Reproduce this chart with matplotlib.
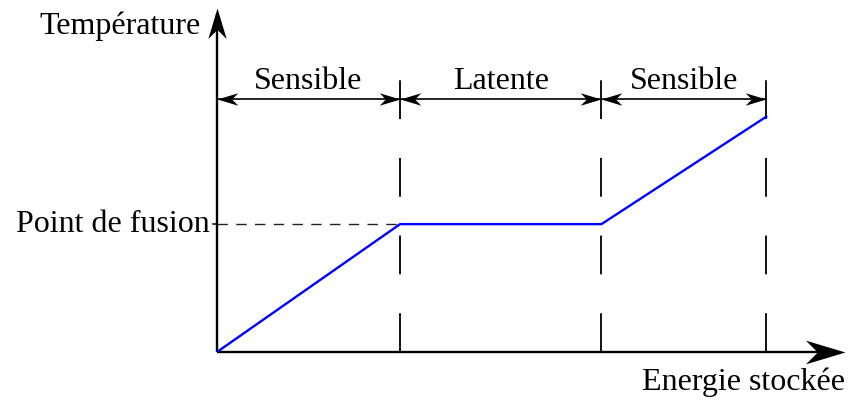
import matplotlib
matplotlib.use('Agg')
import matplotlib.pyplot as plt
from matplotlib.path import Path
from matplotlib.markers import MarkerStyle
from matplotlib.transforms import Affine2D

# curve: stored energy vs temperature (arbitrary units)
energy = [0.0, 1.0, 2.1, 3.0]
temperature = [0.0, 1.0, 1.0, 1.84]
phase_bounds = [0.0, 1.0, 2.1, 3.0]
phase_labels = ['Sensible', 'Latente', 'Sensible']
fusion_temp = 1.0

x_max, y_max = 3.43, 2.69
arrow_y = 1.98
dash_top = 2.125

plt.rcParams['font.family'] = ['Liberation Serif', 'DejaVu Serif']

fig = plt.figure(figsize=(8.49, 4.0), dpi=100)
ax = fig.add_axes([217/849, 48/400, 628/849, 344/400])
ax.set_xlim(0, x_max)
ax.set_ylim(0, y_max)
ax.axis('off')

# notched arrow head, tip at origin, pointing right
head = Path([(0, 0), (-1, 0.3), (-0.7, 0), (-1, -0.3), (0, 0)],
            [Path.MOVETO, Path.LINETO, Path.LINETO, Path.LINETO, Path.CLOSEPOLY])

def arrow_marker(angle):
    return MarkerStyle(head, transform=Affine2D().rotate_deg(angle))

# axes
ax.plot([0, x_max - 0.05], [0, 0], color='black', lw=1.7, solid_capstyle='butt', clip_on=False)
ax.plot([0, 0], [0, y_max - 0.05], color='black', lw=1.7, solid_capstyle='butt', clip_on=False)
ax.plot([x_max], [0], marker=arrow_marker(0), ms=57, color='black', mew=0, clip_on=False)
ax.plot([0], [y_max], marker=arrow_marker(90), ms=44, color='black', mew=0, clip_on=False)

# vertical dashed phase boundaries
for b in phase_bounds[1:]:
    ax.plot([b, b], [0, dash_top], color='black', lw=1.3, dashes=(21.5, 21.5))

# fusion level
ax.plot([0, energy[1]], [fusion_temp, fusion_temp], color='#222222', lw=1.0, dashes=(7.5, 6))
ax.plot([-0.02, 0], [fusion_temp, fusion_temp], color='black', lw=1.1, clip_on=False)

# curve
ax.plot(energy, temperature, color='#0000ff', lw=1.7)

# phase double arrows
for i, lab in enumerate(phase_labels):
    a, b = phase_bounds[i], phase_bounds[i + 1]
    ax.plot([a, b], [arrow_y, arrow_y], color='black', lw=1.2)
    ax.plot([b], [arrow_y], marker=arrow_marker(0), ms=30, color='black', mew=0, clip_on=False)
    ax.plot([a], [arrow_y], marker=arrow_marker(180), ms=30, color='black', mew=0, clip_on=False)
    ax.text((a + b) / 2, arrow_y + 0.08, lab, ha='center', va='baseline', fontsize=23)

ax.text(-0.04, fusion_temp, 'Point de fusion', ha='right', va='center', fontsize=23)
ax.text(-0.09, y_max - 0.2, 'Température', ha='right', va='baseline', fontsize=23, clip_on=False)
ax.text(x_max, -0.30, 'Energie stockée', ha='right', va='baseline', fontsize=23, clip_on=False)

fig.savefig('out.png', dpi=100)
